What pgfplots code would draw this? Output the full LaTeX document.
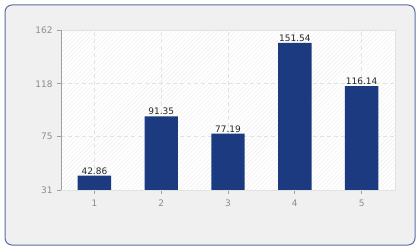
\documentclass[border=0pt]{standalone}
\usepackage{fontspec}
\setmainfont{DejaVu Sans}
\usepackage{pgfplots}
\pgfplotsset{compat=1.18}
\usetikzlibrary{patterns.meta}
\definecolor{barblue}{HTML}{1B3A80}
\definecolor{bggray}{HTML}{F0F0F0}
\definecolor{borderblue}{HTML}{5A6EA5}
\definecolor{tickgray}{HTML}{8C8C8C}
\definecolor{axisgray}{HTML}{A0A0A0}
\definecolor{gridgray}{HTML}{E2E2E2}
\begin{document}
\begin{tikzpicture}[x=1bp,y=1bp]
\fill[white] (0,0) rectangle (420,250);
\draw[fill=bggray, draw=borderblue, rounded corners=7bp, line width=1bp] (5,5) rectangle (415,245);
\begin{axis}[
  at={(61bp,60bp)}, anchor=south west,
  scale only axis, width=334bp, height=160bp,
  xmin=0.5, xmax=5.5, ymin=31, ymax=162,
  xtick={1,2,3,4,5}, ytick={31,75,118,162},
  tick pos=left, tick align=outside, major tick length=4bp,
  tick style={draw=axisgray, line width=0.8bp},
  axis line style={draw=gridgray, line width=0.8bp},
  axis background/.style={fill=white, postaction={pattern={Lines[angle=45,distance=3bp,line width=0.4bp]}, pattern color=black!7}},
  grid=major, major grid style={draw=gridgray, dash pattern=on 4bp off 3bp, line width=0.8bp},
  /pgf/number format/assume math mode=true,
  tick label style={font=\fontsize{9}{10}\selectfont, text=tickgray},
  xticklabel style={yshift=-2bp},
  yticklabel style={xshift=-1bp},
  ybar, bar width=0.5,
  point meta=explicit symbolic,
  nodes near coords,
  every node near coord/.append style={font=\fontsize{9}{10}\selectfont, text=black!85, inner sep=1bp, yshift=0bp},
]
\addplot[fill=barblue, draw=none] coordinates {
  (1,42.86) [42.86]
  (2,91.35) [91.35]
  (3,77.19) [77.19]
  (4,151.54) [151.54]
  (5,116.14) [116.14]
};
\draw[axisgray, line width=0.8bp] (rel axis cs:0,1) -- (rel axis cs:0,0) -- (rel axis cs:1,0);
\end{axis}
\end{tikzpicture}
\end{document}
